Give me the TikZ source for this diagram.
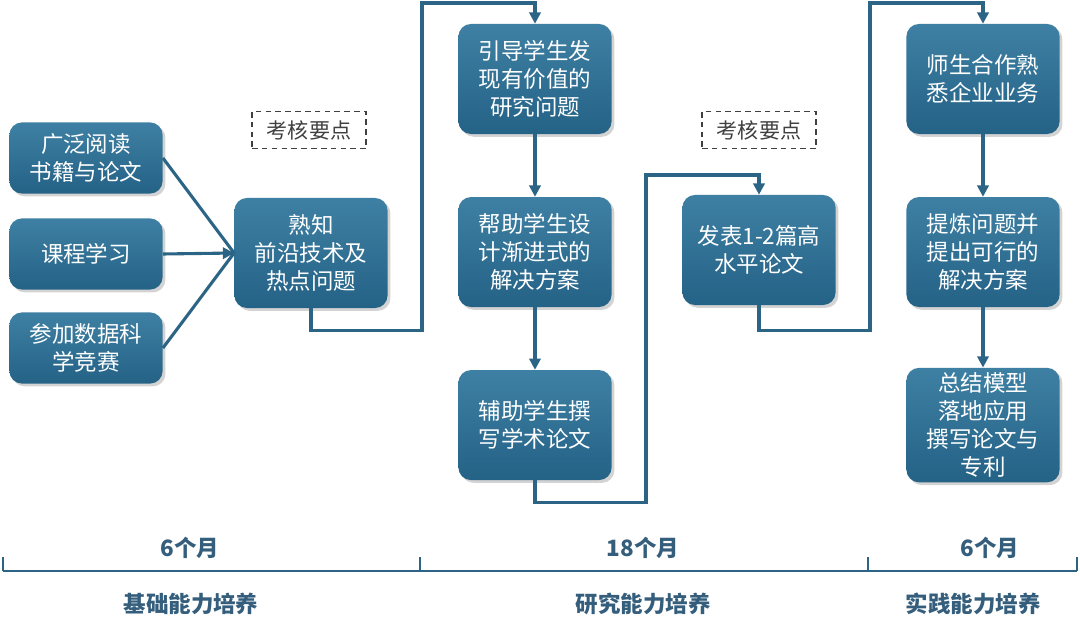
\documentclass[tikz,border=0pt]{standalone}
\usepackage{fontspec}
\setmainfont{Noto Sans CJK SC}
\usetikzlibrary{arrows.meta,positioning,shadows}

\definecolor{boxblue}{RGB}{36,98,134}
\definecolor{boxtop}{RGB}{62,128,163}
\definecolor{linkblue}{RGB}{44,100,134}
\definecolor{labelblue}{RGB}{52,94,124}

\tikzset{
  step box/.style={draw=none, rounded corners=9pt, top color=boxtop, bottom color=boxblue,
    text=white, align=center, font=\fontsize{16}{20}\selectfont,
    minimum width=3.83cm, drop shadow={opacity=0.35, shadow xshift=2pt, shadow yshift=-2pt}},
  short box/.style={step box, minimum height=1.78cm},
  tall box/.style={step box, minimum height=2.75cm},
  check box/.style={draw=black!75, dash pattern=on 4pt off 3pt, line width=1pt, minimum width=2.85cm,
    minimum height=0.93cm, text=black!75, font=\fontsize{15}{17}\selectfont},
  link/.style={draw=linkblue, line width=2.2pt},
  period/.style={text=labelblue, font=\bfseries\fontsize{16}{18}\selectfont}
}

\begin{document}
\begin{tikzpicture}[%
    x=0.025cm, y=-0.025cm,
    >={Triangle[length=8pt,width=8pt]},
    node distance=4.325cm,
    on grid
  ]
    \useasboundingbox (0,0) rectangle (1080,629);

    % basic stage
    \node[short box] (read) at (86,158) {广泛阅读\\书籍与论文};
    \node[short box] (course) at (86,254) {课程学习};
    \node[short box] (contest) at (86,348) {参加数据科\\学竞赛};
    \node[tall box] (frontier) at (311,253) {熟知\\前沿技术及\\热点问题};
    \node[check box] (check1) at (309,130) {考核要点};

    % research stage
    \node[tall box] (guide) at (535,79) {引导学生发\\现有价值的\\研究问题};
    \node[tall box] (design) [below=of guide] {帮助学生设\\计渐进式的\\解决方案};
    \node[tall box] (write) [below=of design] {辅助学生撰\\写学术论文};
    \node[tall box] (publish) at (759,250) {发表1-2篇高\\水平论文};
    \node[check box] (check2) at (759,130) {考核要点};

    % practice stage
    \node[tall box] (business) at (983,79) {师生合作熟\\悉企业业务};
    \node[tall box] (refine) [below=of business] {提炼问题并\\提出可行的\\解决方案};
    \node[tall box] (summary) [below=of refine] {总结模型\\落地应用\\撰写论文与\\专利};

    \path[link]
      (read.east)    edge (frontier.west)
      (contest.east) edge (frontier.west);
    \draw[link,->] (course.east) -- (frontier.west);
    \draw[link,->] (frontier.south) -- ++(0,22) -| (422,3) -| (guide.north);
    \draw[link,->] (guide) -- (design);
    \draw[link,->] (design) -- (write);
    \draw[link,->] (write.south) -- ++(0,22) -| (646,175) -| (publish.north);
    \draw[link,->] (publish.south) -- ++(0,25) -| (870,3) -| (business.north);
    \draw[link,->] (business) -- (refine);
    \draw[link,->] (refine) -- (summary);

    % time line
    \coordinate (t0) at (3,571);
    \coordinate (t1) at (420,571);
    \coordinate (t2) at (868,571);
    \coordinate (t3) at (1077,571);
    \draw[link, line width=2pt] (t0) -- (t3);
    \foreach \t in {t0,t1,t2,t3}
      \draw[link, line width=1.5pt] (\t) -- ++(0,-14);

    \node[period] (len1) at (190,548) {6个月};
    \node[period] (len2) at (643,548) {18个月};
    \node[period] (len3) at (990,548) {6个月};
    \node[period] (name1) at (191,604) {基础能力培养};
    \node[period] (name2) at (643,604) {研究能力培养};
    \node[period] (name3) at (973,604) {实践能力培养};
  \end{tikzpicture}
\end{document}
